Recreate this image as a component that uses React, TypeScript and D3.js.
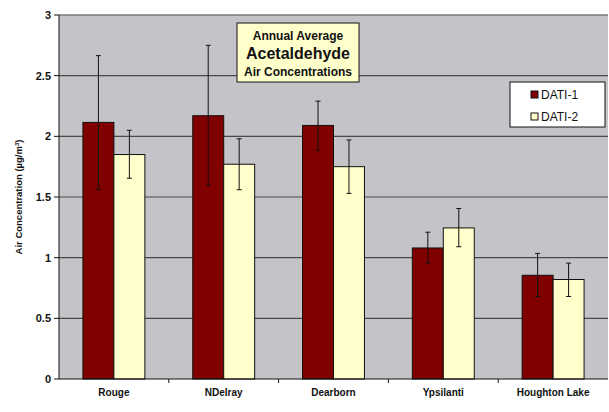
import React from "react";
import * as d3 from "d3";

const categories = ["Rouge", "NDelray", "Dearborn", "Ypsilanti", "Houghton Lake"];
const seriesNames = ["DATI-1", "DATI-2"];
const dati1 = [2.115, 2.17, 2.09, 1.08, 0.855];
const dati2 = [1.85, 1.77, 1.75, 1.245, 0.82];
const dati1Low = [1.56, 1.595, 1.885, 0.955, 0.68];
const dati1High = [2.665, 2.75, 2.29, 1.21, 1.035];
const dati2Low = [1.655, 1.56, 1.53, 1.09, 0.68];
const dati2High = [2.05, 1.98, 1.97, 1.405, 0.955];
const yTicks = [0, 0.5, 1, 1.5, 2, 2.5, 3];

const W = 609;
const H = 412;
const margin = { left: 59, right: 1, top: 15, bottom: 33 };
const colors = ["#800000", "#FFFFCC"];
const font = "'Liberation Sans', Arial, sans-serif";

export default function App() {
  const x = d3
    .scaleBand<string>()
    .domain(categories)
    .range([margin.left, W - margin.right])
    .paddingInner(0)
    .paddingOuter(0);
  const y = d3.scaleLinear().domain([0, 3]).range([H - margin.bottom, margin.top]);
  const bw = x.bandwidth();
  const barW = bw * 0.282;
  const series = [
    { name: seriesNames[0], values: dati1, lo: dati1Low, hi: dati1High },
    { name: seriesNames[1], values: dati2, lo: dati2Low, hi: dati2High },
  ];
  const plotRight = W - margin.right;

  return (
    <svg
      width={W}
      height={H}
      style={{ position: "absolute", left: 0, top: 0, background: "#fff" }}
      fontFamily={font}
    >
      <rect
        x={margin.left}
        y={margin.top}
        width={plotRight - margin.left}
        height={y(0) - margin.top}
        fill="#C4C3C7"
      />
      <line x1={margin.left} x2={plotRight} y1={margin.top} y2={margin.top} stroke="#7a7a7a" strokeWidth={1.5} />
      {yTicks.slice(1, -1).map((t) => (
        <line key={t} x1={margin.left} x2={plotRight} y1={y(t)} y2={y(t)} stroke="#4a4a4a" strokeWidth={1.2} />
      ))}
      {series.map((s, si) =>
        categories.map((c, i) => {
          const bx = (x(c) as number) + bw / 2 - barW + si * barW;
          return (
            <rect
              key={c + si}
              x={bx}
              y={y(s.values[i])}
              width={barW}
              height={y(0) - y(s.values[i])}
              fill={colors[si]}
              stroke="#111"
              strokeWidth={1}
            />
          );
        })
      )}
      {series.map((s, si) =>
        categories.map((c, i) => {
          const cx = (x(c) as number) + bw / 2 - barW + si * barW + barW / 2;
          return (
            <g key={"e" + c + si} stroke="#111" strokeWidth={1}>
              <line x1={cx} x2={cx} y1={y(s.hi[i])} y2={y(s.lo[i])} />
              <line x1={cx - 2.5} x2={cx + 2.5} y1={y(s.hi[i])} y2={y(s.hi[i])} />
              <line x1={cx - 2.5} x2={cx + 2.5} y1={y(s.lo[i])} y2={y(s.lo[i])} />
            </g>
          );
        })
      )}
      {/* axes */}
      <line x1={margin.left} x2={margin.left} y1={margin.top} y2={y(0)} stroke="#111" strokeWidth={1} />
      <line x1={margin.left} x2={plotRight} y1={y(0)} y2={y(0)} stroke="#111" strokeWidth={1} />
      {yTicks.map((t) => (
        <g key={"t" + t}>
          <line x1={margin.left - 5} x2={margin.left} y1={y(t)} y2={y(t)} stroke="#111" />
          <text
            x={margin.left - 8}
            y={y(t)}
            dy="0.35em"
            textAnchor="end"
            fontSize={11}
            fontWeight="bold"
            fill="#111"
          >
            {t}
          </text>
        </g>
      ))}
      {categories.slice(1).map((c) => (
        <line key={"xt" + c} x1={x(c)} x2={x(c)} y1={y(0)} y2={y(0) + 4} stroke="#111" />
      ))}
      {categories.map((c) => (
        <text
          key={"xl" + c}
          x={(x(c) as number) + bw / 2}
          y={396}
          textAnchor="middle"
          fontSize={10}
          fontWeight="bold"
          fill="#111"
        >
          {c}
        </text>
      ))}
      <text
        transform={`translate(22,${(margin.top + y(0)) / 2}) rotate(-90)`}
        textAnchor="middle"
        fontSize={9.5}
        fontWeight="bold"
        fill="#111"
      >
        Air Concentration (µg/m<tspan dy={-3} fontSize={6}>3</tspan>
        <tspan dy={3}>)</tspan>
      </text>
      {/* title box */}
      <rect x={237} y={23} width={122} height={59} fill="#FFFFCC" stroke="#111" strokeWidth={1} />
      <text x={298} y={40} textAnchor="middle" fontSize={12} fontWeight="bold" fill="#111">
        Annual Average
      </text>
      <text x={298} y={59} textAnchor="middle" fontSize={16} fontWeight="bold" fill="#111">
        Acetaldehyde
      </text>
      <text x={298} y={76} textAnchor="middle" fontSize={12} fontWeight="bold" fill="#111">
        Air Concentrations
      </text>
      {/* legend */}
      <rect x={510} y={82} width={95} height={45} fill="#fff" stroke="#111" strokeWidth={1} />
      {series.map((s, si) => (
        <g key={"lg" + si}>
          <rect x={531} y={91 + si * 22} width={7} height={7} fill={colors[si]} stroke="#111" />
          <text x={541} y={95 + si * 22} dy="0.35em" fontSize={12} fill="#111">
            {s.name}
          </text>
        </g>
      ))}
    </svg>
  );
}
